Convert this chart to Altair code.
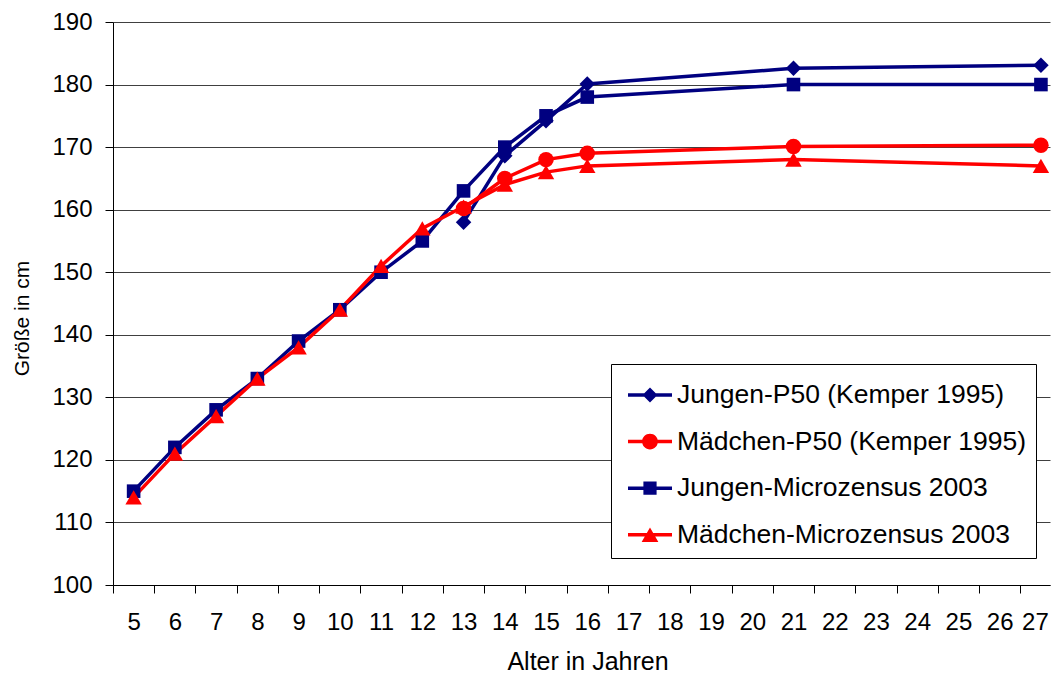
import altair as alt
import pandas as pd

# ---- data ----
ages_mz = [5, 6, 7, 8, 9, 10, 11, 12, 13, 14, 15, 16, 21, 27]
ages_p50 = [13, 14, 15, 16, 21, 27]

jungen_p50 = [158, 168.6, 174.2, 180.1, 182.6, 183.1]
maedchen_p50 = [160.2, 165, 168, 169, 170.1, 170.3]
jungen_mz = [115, 122, 128, 133, 139, 144, 150, 155, 163, 170, 175, 178, 180, 180]
maedchen_mz = [114, 121, 127, 133, 138, 144, 151, 157, 160.5, 164, 166, 167, 168, 167]

series_names = [
    "Jungen-P50 (Kemper 1995)",
    "Mädchen-P50 (Kemper 1995)",
    "Jungen-Microzensus 2003",
    "Mädchen-Microzensus 2003",
]
series_colors = ["#000080", "#FF0000", "#000080", "#FF0000"]
series_shapes = ["diamond", "circle", "square", "triangle-up"]
series_sizes = [240, 240, 185, 270]

x_ticks = list(range(5, 28))
y_ticks = list(range(100, 191, 10))

rows = []
for name, ages, vals in zip(
    series_names,
    [ages_p50, ages_p50, ages_mz, ages_mz],
    [jungen_p50, maedchen_p50, jungen_mz, maedchen_mz],
):
    for a, v in zip(ages, vals):
        rows.append({"series": name, "age": a, "height": v})
df = pd.DataFrame(rows)

# legend symbols: line segment plus marker (custom paths in the [-1, 1] box)
bar = "M-1,-0.08H1V0.08H-1Z"
legend_paths = [
    bar + "M0,-0.34L0.34,0L0,0.34L-0.34,0Z",
    bar + "M-0.36,0A0.36,0.36 0 0 1 0.36,0A0.36,0.36 0 0 1 -0.36,0Z",
    bar + "M-0.3,-0.3H0.3V0.3H-0.3Z",
    bar + "M0,-0.33L0.38,0.33H-0.38Z",
]

FONT = "Liberation Sans"
STEP = 937 / 22.72
HALF = STEP / 2

x_enc = alt.X(
    "age:Q",
    scale=alt.Scale(domain=[4.5, 27.22], nice=False, zero=False),
    axis=alt.Axis(
        values=x_ticks,
        title="Alter in Jahren",
        tickOffset=-HALF,
        labelOffset=alt.expr(f"datum.value == 27 ? {HALF - 6:.2f} : {HALF:.2f}"),
        tickSize=8,
        labelPadding=17,
        labelFlush=False,
        labelOverlap=False,
        labelFontSize=24,
        grid=False,
        titleFontSize=25,
        titleFontWeight="normal",
        titleX=474.5,
        titleY=84,
        titleBaseline="alphabetic",
        titleAlign="center",
    ),
)
y_enc = alt.Y(
    "height:Q",
    scale=alt.Scale(domain=[100, 190], nice=False, zero=False),
    axis=alt.Axis(
        values=y_ticks,
        title="Größe in cm",
        tickSize=8,
        labelPadding=13,
        labelFontSize=24,
        grid=True,
        gridColor="#404040",
        gridWidth=1,
        titleFontSize=21,
        titleFontWeight="normal",
        titleAngle=270,
        titleX=-91,
        titleY=296,
        titleBaseline="middle",
        titleAlign="center",
    ),
)

leg = alt.Legend(
    title=None,
    orient="none",
    legendX=498,
    legendY=342,
    padding=9,
    strokeColor="#000000",
    fillColor="#FFFFFF",
    labelFont=FONT,
    labelFontSize=26.5,
    labelColor="#000000",
    labelLimit=600,
    labelOffset=5,
    symbolOffset=8,
    symbolSize=1936,
    symbolStrokeWidth=0,
    symbolOpacity=1,
    rowPadding=10.6,
)
color_enc = alt.Color(
    "series:N",
    scale=alt.Scale(domain=series_names, range=series_colors),
    legend=leg,
)

draw_order = [0, 2, 3, 1]
layers = []
for i in draw_order:
    layers.append(
        alt.Chart(df)
        .transform_filter(alt.datum.series == series_names[i])
        .mark_line(strokeWidth=3.5)
        .encode(x=x_enc, y=y_enc, color=color_enc)
    )
for i in draw_order:
    layers.append(
        alt.Chart(df)
        .transform_filter(alt.datum.series == series_names[i])
        .mark_point(filled=True, opacity=1, shape=series_shapes[i], size=series_sizes[i])
        .encode(x=x_enc, y=y_enc, color=color_enc)
    )
# invisible layer that only drives the legend's symbols
layers.append(
    alt.Chart(df)
    .mark_point(filled=True, opacity=0)
    .encode(
        x=x_enc,
        y=y_enc,
        color=color_enc,
        shape=alt.Shape(
            "series:N",
            scale=alt.Scale(domain=series_names, range=legend_paths),
            legend=leg,
        ),
    )
)

chart = (
    alt.layer(*layers)
    .properties(
        width=937,
        height=563,
        padding={"left": 113, "top": 22, "right": 2, "bottom": 89},
        autosize=alt.AutoSizeParams(type="none"),
        background="white",
    )
    .configure_view(strokeWidth=0)
    .configure_axis(
        labelFont=FONT,
        titleFont=FONT,
        labelColor="#000000",
        titleColor="#000000",
        domainColor="#000000",
        tickColor="#000000",
        domainWidth=1,
        tickWidth=1,
    )
)

chart.save("out.html", embed_options={"renderer": "svg", "actions": False})
